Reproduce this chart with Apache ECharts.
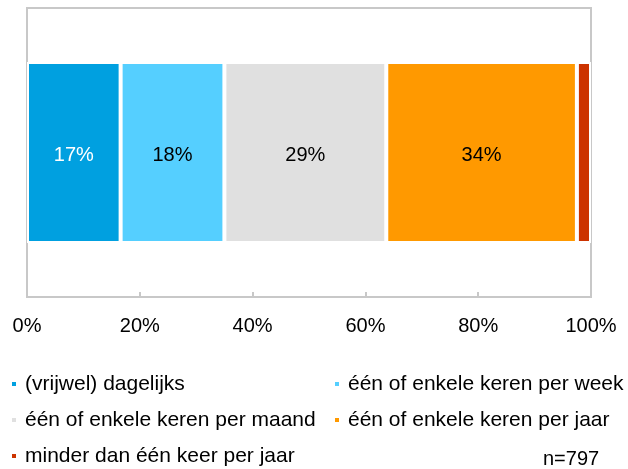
<!DOCTYPE html>
<html lang="nl">
<head>
  <meta charset="UTF-8">
  <title>Frequentie</title>
  <script src="https://cdn.jsdelivr.net/npm/echarts@6.0.0/dist/echarts.min.js"></script>
</head>
<body style="margin:0">
  <div id="main" style="width: 628px; height: 469px;"></div>
  <script>
    // categories and values (percent of respondents, n=797)
    var categories = ['(vrijwel) dagelijks', 'één of enkele keren per week', 'één of enkele keren per maand', 'één of enkele keren per jaar', 'minder dan één keer per jaar'];
    var values = [16.6, 18.4, 28.7, 33.8, 2.5];
    var colors = ['#00a0e0', '#55cfff', '#e0e0e0', '#ff9900', '#cc3300'];
    var labelColors = ['#fff', '#000', '#000', '#000', '#000'];
    var xTicks = [0, 20, 40, 60, 80, 100];
    // legend slot of each category: [left, top]
    var legendPos = [[10, 373], [333, 373], [10, 409], [333, 409], [10, 445]];

    var font = 'Liberation Sans, Arial, sans-serif';
    var myChart = echarts.init(document.getElementById('main'));

    var series = categories.map(function (name, i) {
      return {
        name: name,
        type: 'bar',
        stack: 'total',
        barWidth: 181,
        data: [values[i]],
        itemStyle: { color: colors[i], borderColor: '#fff', borderWidth: 2 },
        label: {
          show: i < 4,
          position: 'inside',
          offset: [0, 3],
          color: labelColors[i],
          fontFamily: font,
          fontSize: 20,
          formatter: function (p) { return Math.round(p.value) + '%'; }
        },
        emphasis: { disabled: true }
      };
    });

    var legends = categories.map(function (name, i) {
      return {
        left: legendPos[i][0],
        top: legendPos[i][1],
        padding: 0,
        itemWidth: 6,
        itemHeight: 6,
        icon: 'rect',
        selectedMode: false,
        data: [name],
        textStyle: { fontFamily: font, fontSize: 21, lineHeight: 22, color: '#000', padding: [0, 0, 0, 3] }
      };
    });

    var option = {
      animation: false,
      grid: {
        left: 27, right: 37, top: 8, bottom: 172,
        show: true, borderColor: '#c8c8c8', borderWidth: 2
      },
      xAxis: {
        type: 'value',
        min: xTicks[0],
        max: xTicks[xTicks.length - 1],
        interval: 20,
        splitLine: { show: false },
        axisLine: { show: true, lineStyle: { color: '#c8c8c8', width: 2 } },
        axisTick: { show: true, inside: true, length: 5, lineStyle: { color: '#c8c8c8', width: 2 } },
        axisLabel: { formatter: '{value}%', color: '#000', fontFamily: font, fontSize: 20, margin: 19 }
      },
      yAxis: {
        type: 'category',
        data: [''],
        axisLine: { show: false },
        axisTick: { show: false },
        axisLabel: { show: false }
      },
      legend: legends,
      graphic: [{
        type: 'text',
        left: 543,
        top: 449,
        style: { text: 'n=797', fontFamily: font, fontSize: 20, fill: '#000' }
      }],
      series: series
    };

    myChart.setOption(option);
  </script>
</body>
</html>
